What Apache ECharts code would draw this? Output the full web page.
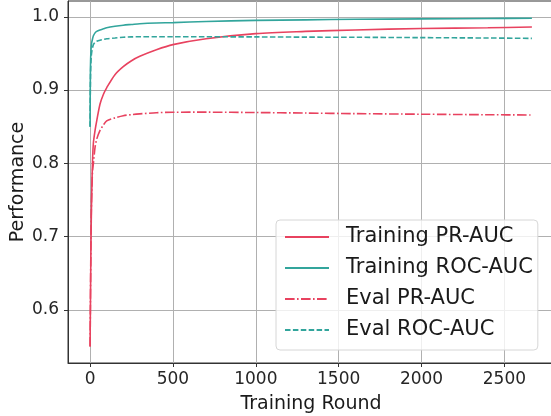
<!DOCTYPE html>
<html>
<head>
<meta charset="utf-8">
<title>Training performance</title>
<script src="https://cdn.jsdelivr.net/npm/echarts@6/dist/echarts.min.js"></script>
<style>
  html, body { margin: 0; padding: 0; background: #fff; }
  #chart { width: 551px; height: 416px; }
</style>
</head>
<body>
<div id="chart"></div>
<script>
// training rounds where the curves were sampled
var rounds = [0, 1, 2, 3, 5, 7, 10, 15, 20, 30, 40, 60, 80, 100, 150, 200, 250, 300, 400, 500, 700, 1000, 1300, 1600, 2000, 2400, 2666]

var trainPrAuc = [0.55, 0.58, 0.6, 0.63, 0.68, 0.72, 0.76, 0.805, 0.828, 0.845, 0.858, 0.881, 0.894, 0.903, 0.921, 0.932, 0.94, 0.946, 0.955, 0.962, 0.97, 0.977, 0.98, 0.982, 0.984, 0.985, 0.986]
var trainRocAuc = [0.85, 0.9, 0.925, 0.94, 0.952, 0.96, 0.965, 0.97, 0.974, 0.978, 0.98, 0.982, 0.9835, 0.985, 0.987, 0.9885, 0.9895, 0.9905, 0.9915, 0.992, 0.9935, 0.995, 0.9958, 0.9965, 0.9971, 0.9976, 0.998]
var evalPrAuc = [0.55, 0.58, 0.61, 0.64, 0.69, 0.73, 0.76, 0.79, 0.8, 0.822, 0.833, 0.845, 0.852, 0.858, 0.862, 0.865, 0.8665, 0.8675, 0.869, 0.8697, 0.8698, 0.8693, 0.8686, 0.8678, 0.867, 0.8663, 0.866]
var evalRocAuc = [0.85, 0.89, 0.91, 0.925, 0.938, 0.946, 0.952, 0.958, 0.962, 0.965, 0.9665, 0.968, 0.969, 0.97, 0.971, 0.972, 0.9725, 0.9727, 0.9728, 0.9728, 0.9727, 0.9725, 0.9722, 0.972, 0.9715, 0.971, 0.9705]

var xTicks = [0, 500, 1000, 1500, 2000, 2500]
var yTicks = [0.6, 0.7, 0.8, 0.9, 1.0]

var red = '#e8425f'
var teal = '#32a59c'
var font = 'DejaVu Sans'

function pairs(ys) {
  return rounds.map(function (r, i) { return [r, ys[i]] })
}

function line(name, ys, color, type) {
  return {
    name: name,
    type: 'line',
    data: pairs(ys),
    symbol: 'none',
    smooth: 0.3,
    animation: false,
    lineStyle: { color: color, width: 1.6, type: type },
    itemStyle: { color: color }
  }
}

var chart = echarts.init(document.getElementById('chart'), null, { renderer: 'canvas' })

chart.setOption({
  animation: false,
  grid: {
    left: 68, top: 1, right: -3, bottom: 53,
    outerBoundsMode: 'none',
    show: true, borderColor: '#333', borderWidth: 1
  },
  legend: {
    orient: 'vertical',
    left: 276, top: 220,
    padding: [5, 5, 8, 8],
    itemWidth: 44, itemHeight: 14, itemGap: 7,
    itemStyle: { opacity: 0 },
    backgroundColor: 'rgba(255,255,255,0.8)',
    borderColor: '#d6d6d6', borderWidth: 1, borderRadius: 4,
    textStyle: { fontFamily: font, fontSize: 21, color: '#1a1a1a', lineHeight: 24, padding: [0, 0, 0, 12] },
    data: ['Training PR-AUC', 'Training ROC-AUC', 'Eval PR-AUC', 'Eval ROC-AUC']
  },
  xAxis: {
    type: 'value',
    min: -133.3, max: 2799.3,
    name: 'Training Round', nameLocation: 'middle', nameGap: 32,
    nameTextStyle: { fontFamily: font, fontSize: 19, color: '#1a1a1a' },
    axisLine: { show: true, onZero: false, lineStyle: { color: '#333' } },
    axisTick: { show: true, length: 4, customValues: xTicks, lineStyle: { color: '#333' } },
    axisLabel: {
      customValues: xTicks, margin: 8, fontFamily: font, fontSize: 17, color: '#262626',
      formatter: function (v) { return String(v) }
    },
    splitLine: { show: true, lineStyle: { color: '#b0b0b0', width: 1 } }
  },
  yAxis: {
    type: 'value',
    min: 0.5275, max: 1.0215,
    name: 'Performance', nameLocation: 'middle', nameGap: 40, nameMoveOverlap: false,
    nameTextStyle: { fontFamily: font, fontSize: 19, color: '#1a1a1a' },
    axisLine: { show: true, onZero: false, lineStyle: { color: '#333' } },
    axisTick: { show: true, length: 4, customValues: yTicks, lineStyle: { color: '#333' } },
    axisLabel: {
      customValues: yTicks, margin: 9, fontFamily: font, fontSize: 17, color: '#262626',
      formatter: function (v) { return v.toFixed(1) }
    },
    splitLine: { show: true, lineStyle: { color: '#b0b0b0', width: 1 } }
  },
  series: [
    line('Training PR-AUC', trainPrAuc, red, 'solid'),
    line('Training ROC-AUC', trainRocAuc, teal, 'solid'),
    line('Eval PR-AUC', evalPrAuc, red, [9.6, 2.4, 1.6, 2.4]),
    line('Eval ROC-AUC', evalRocAuc, teal, [5.5, 2.4])
  ]
})
</script>
</body>
</html>
